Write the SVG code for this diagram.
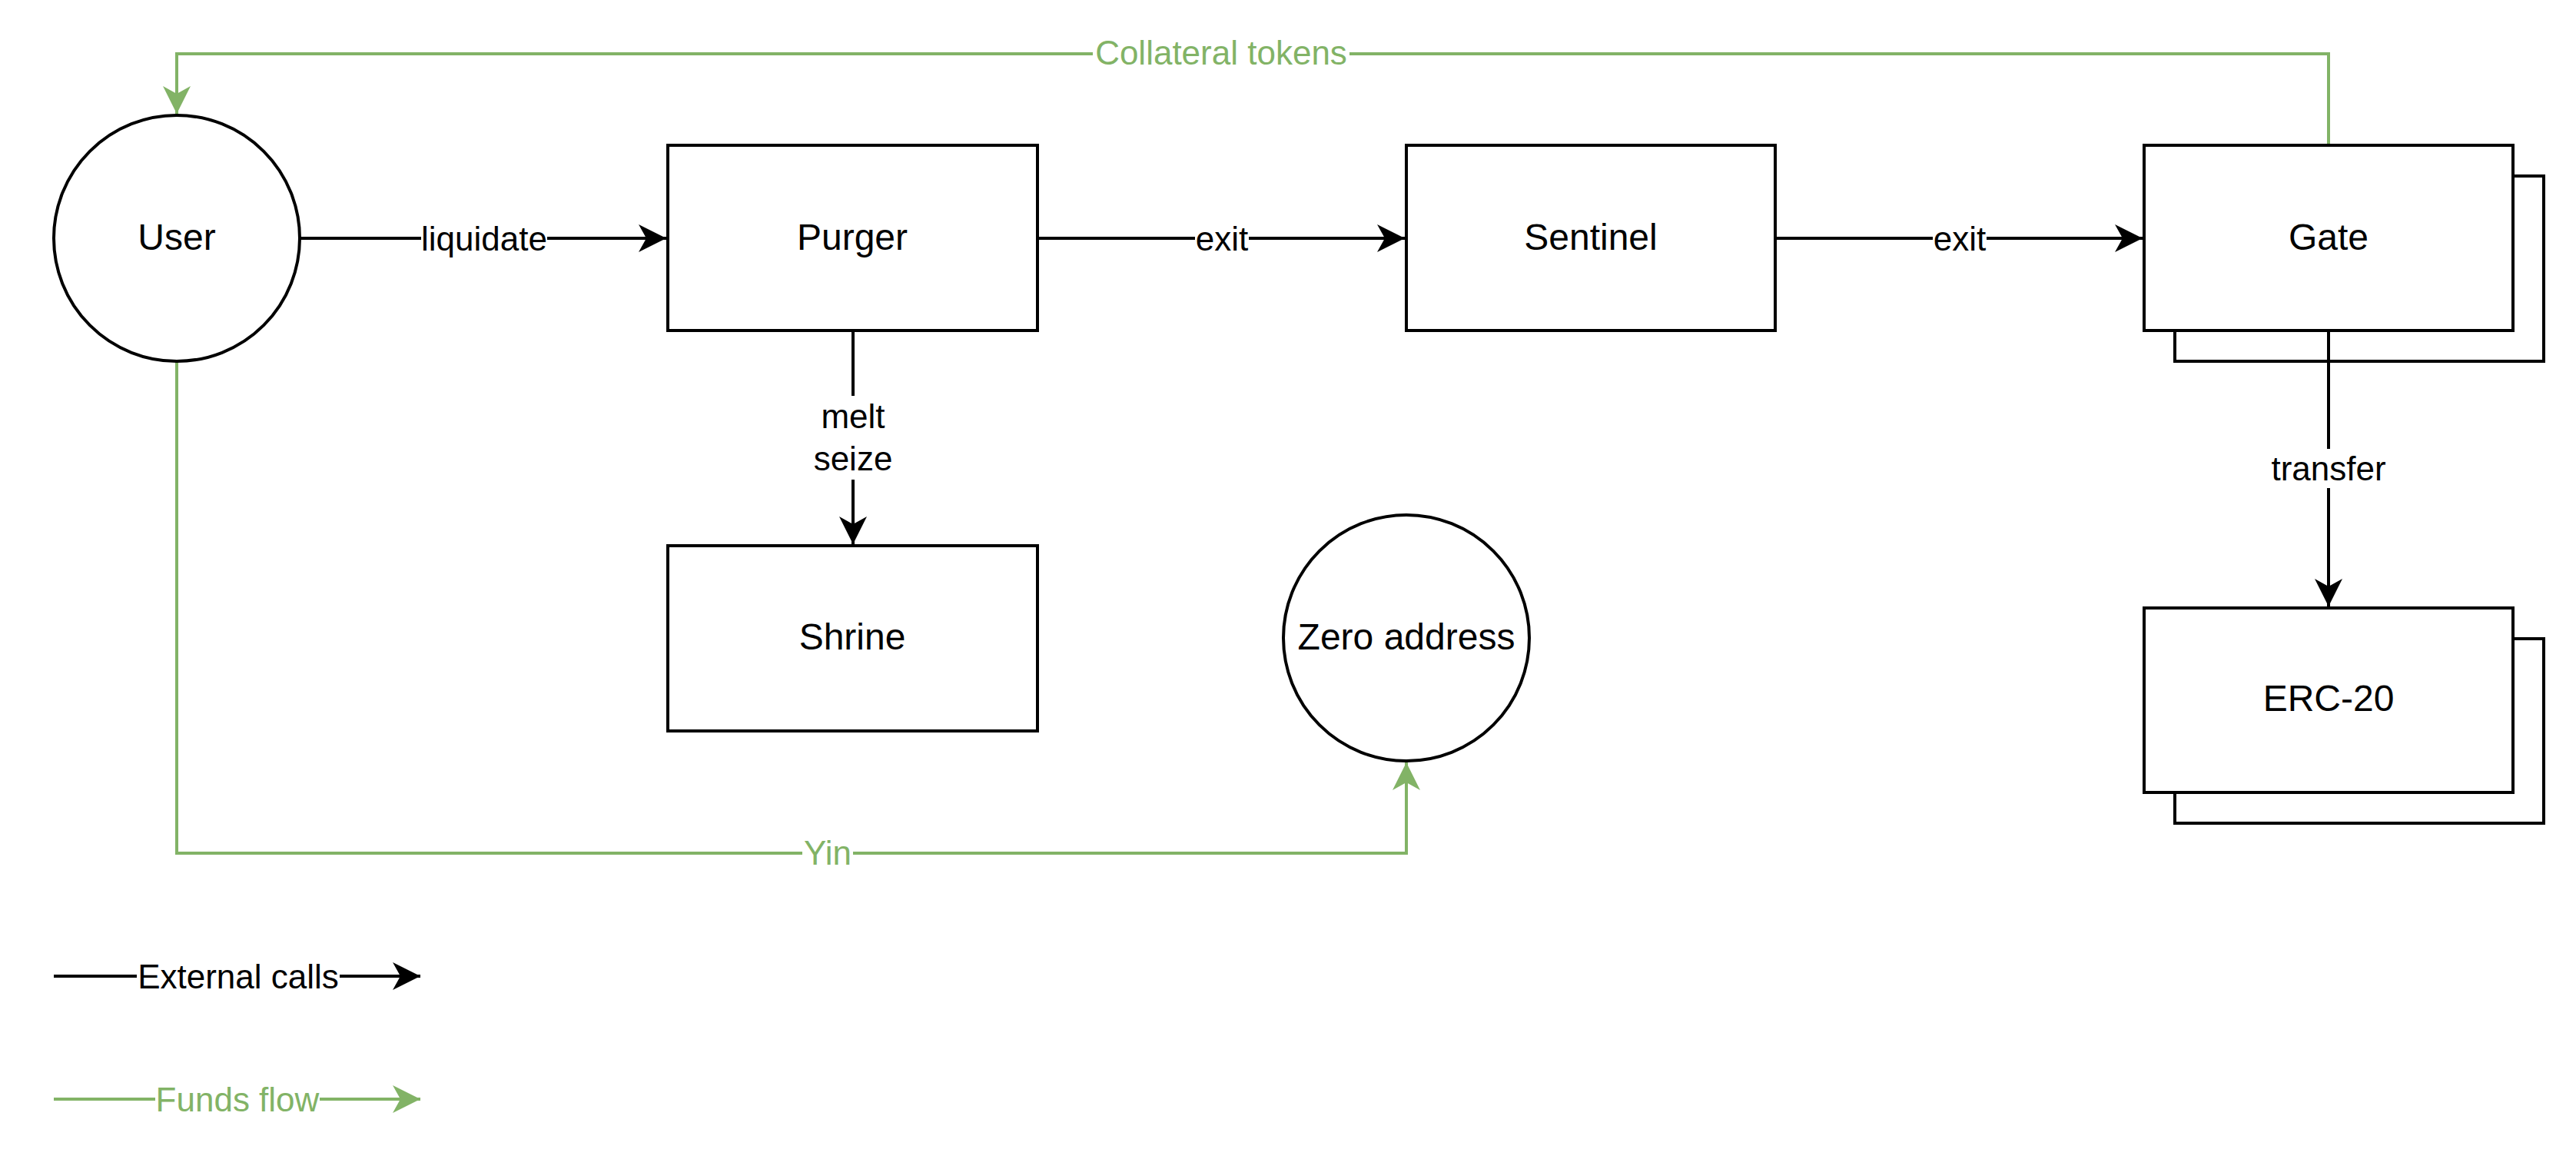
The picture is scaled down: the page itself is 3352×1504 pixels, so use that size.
<svg xmlns="http://www.w3.org/2000/svg" width="3352" height="1504" viewBox="0 0 3352 1504">
<style>
.node{fill:#fff;stroke:#000;stroke-width:4}
.nt{font-family:"Liberation Sans",Arial,sans-serif;font-size:48px;fill:#000;text-anchor:middle;dominant-baseline:central}
.lt{font-family:"Liberation Sans",Arial,sans-serif;font-size:44px;text-anchor:middle;dominant-baseline:central}
.blk{fill:none;stroke:#000;stroke-width:4}
.grn{fill:none;stroke:#82b366;stroke-width:4}
.bg{fill:#fff;stroke:none}
</style>
<defs>
<marker id="ab" markerUnits="userSpaceOnUse" markerWidth="40" markerHeight="40" viewBox="-38 -20 40 40" refX="0" refY="0" orient="auto">
<path d="M0,0 L-36,-18 L-26,0 L-36,18 Z" fill="#000"/>
</marker>
<marker id="ag" markerUnits="userSpaceOnUse" markerWidth="40" markerHeight="40" viewBox="-38 -20 40 40" refX="0" refY="0" orient="auto">
<path d="M0,0 L-36,-18 L-26,0 L-36,18 Z" fill="#82b366"/>
</marker>
</defs>
<rect width="3352" height="1504" fill="#fff"/>
<g id="connectors">
<path class="blk" d="M390,310 H867" marker-end="url(#ab)"/>
<path class="blk" d="M1351,310 H1828" marker-end="url(#ab)"/>
<path class="blk" d="M2310,310 H2788" marker-end="url(#ab)"/>
<path class="blk" d="M1110,430 V708" marker-end="url(#ab)"/>
<path class="grn" d="M3030,189 V70 H230 V148" marker-end="url(#ag)"/>
<path class="grn" d="M230,470 V1110 H1830 V992" marker-end="url(#ag)"/>
<rect class="bg" x="548" y="285" width="164" height="50"/>
<text class="lt" x="630" y="310" fill="#000">liquidate</text>
<rect class="bg" x="1555" y="285" width="70" height="50"/>
<text class="lt" x="1590" y="310" fill="#000">exit</text>
<rect class="bg" x="2515" y="285" width="70" height="50"/>
<text class="lt" x="2550" y="310" fill="#000">exit</text>
<rect class="bg" x="1070" y="515" width="80" height="109"/>
<text class="lt" x="1110" y="541" fill="#000">melt</text>
<text class="lt" x="1110" y="596" fill="#000">seize</text>
<rect class="bg" x="1422" y="45" width="334" height="50"/>
<text class="lt" x="1589" y="68" fill="#82b366">Collateral tokens</text>
<rect class="bg" x="1044" y="1085" width="66" height="50"/>
<text class="lt" x="1077" y="1109" fill="#82b366">Yin</text>
</g>
<g id="user">
<circle class="node" cx="230" cy="310" r="160"/>
<text class="nt" x="230" y="308">User</text>
</g>
<g id="purger">
<rect class="node" x="869" y="189" width="481" height="241"/>
<text class="nt" x="1109" y="308">Purger</text>
</g>
<g id="sentinel">
<rect class="node" x="1830" y="189" width="480" height="241"/>
<text class="nt" x="2070" y="308">Sentinel</text>
</g>
<g id="gate">
<rect class="node" x="2830" y="229" width="480" height="241"/>
<rect class="node" x="2790" y="189" width="480" height="241"/>
<text class="nt" x="3030" y="308">Gate</text>
</g>
<g id="shrine">
<rect class="node" x="869" y="710" width="481" height="241"/>
<text class="nt" x="1109" y="828">Shrine</text>
</g>
<g id="zero-address">
<circle class="node" cx="1830" cy="830" r="160"/>
<text class="nt" x="1830" y="828">Zero address</text>
</g>
<g id="erc20">
<rect class="node" x="2830" y="831" width="480" height="240"/>
<rect class="node" x="2790" y="791" width="480" height="240"/>
<text class="nt" x="3030" y="908">ERC-20</text>
</g>
<g id="gate-transfer">
<path class="blk" d="M3030,430 V789" marker-end="url(#ab)"/>
<rect class="bg" x="2950" y="584" width="160" height="51"/>
<text class="lt" x="3030" y="609" fill="#000">transfer</text>
</g>
<g id="legend">
<path class="blk" d="M70,1270 H547" marker-end="url(#ab)"/>
<rect class="bg" x="178" y="1245" width="264" height="50"/>
<text class="lt" x="310" y="1270" fill="#000">External calls</text>
<path class="grn" d="M70,1430 H547" marker-end="url(#ag)"/>
<rect class="bg" x="202" y="1405" width="214" height="50"/>
<text class="lt" x="309" y="1430" fill="#82b366">Funds flow</text>
</g>
</svg>
